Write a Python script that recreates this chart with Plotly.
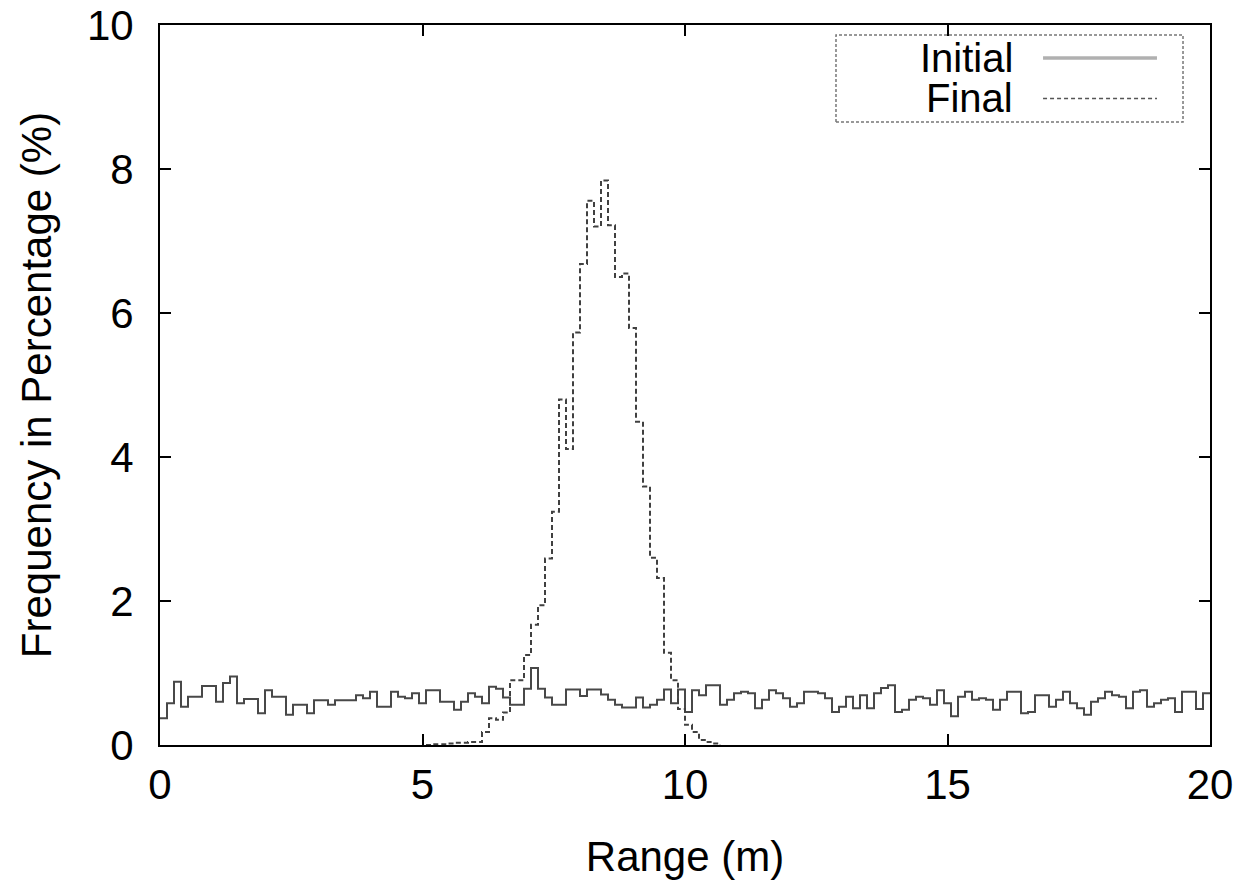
import numpy as np
import plotly.graph_objects as go

# ---- data ----
N_BINS = 150
RANGE_MAX = 20.0
bin_width = RANGE_MAX / N_BINS
bin_left = np.arange(N_BINS) * bin_width

initial_pct = [
    0.37, 0.58, 0.88, 0.53, 0.67, 0.67, 0.82, 0.82, 0.60, 0.86,
    0.95, 0.58, 0.64, 0.64, 0.44, 0.76, 0.67, 0.67, 0.42, 0.56,
    0.56, 0.44, 0.62, 0.62, 0.56, 0.62, 0.62, 0.62, 0.69, 0.65,
    0.74, 0.53, 0.53, 0.74, 0.67, 0.65, 0.72,
    0.58, 0.76, 0.76, 0.60, 0.60, 0.49, 0.60, 0.72, 0.67, 0.58,
    0.81, 0.78, 0.66, 0.56, 0.56, 0.78, 1.07,
    0.78, 0.66, 0.56, 0.56, 0.77, 0.77, 0.68, 0.77, 0.77, 0.70,
    0.63, 0.56, 0.52, 0.52, 0.66, 0.52, 0.56, 0.63, 0.77, 0.58, 0.77,
    0.46, 0.76, 0.69, 0.83, 0.83, 0.56, 0.63, 0.72, 0.74, 0.72,
    0.51, 0.63, 0.76, 0.72, 0.65, 0.53, 0.58, 0.74, 0.74, 0.72,
    0.65, 0.46, 0.53, 0.67, 0.51, 0.69, 0.51, 0.72, 0.79, 0.83,
    0.46, 0.49, 0.63, 0.67, 0.65, 0.56, 0.76,
    0.58, 0.40, 0.67, 0.74, 0.63, 0.65, 0.63, 0.49, 0.63, 0.74,
    0.74, 0.44, 0.46, 0.69, 0.69, 0.53, 0.63, 0.74, 0.58, 0.51,
    0.42, 0.60, 0.65, 0.74, 0.69, 0.67, 0.51, 0.74, 0.76, 0.53,
    0.58, 0.63, 0.65, 0.46, 0.74, 0.74, 0.50, 0.72,
]

FINAL_FIRST_BIN = 38
final_pct = [
    0.00, 0.01, 0.01, 0.02, 0.03, 0.03, 0.04, 0.04, 0.18, 0.37,
    0.35, 0.45, 0.90, 0.90, 1.25, 1.67, 1.94, 2.59, 3.24, 4.80,
    4.11, 5.73, 6.68, 7.56, 7.20, 7.84, 7.22, 6.50, 6.55, 5.79,
    4.49, 3.59, 2.60, 2.32, 1.28, 0.90, 0.50, 0.28, 0.18, 0.07,
    0.04, 0.02, 0.00,
]

x_ticks = [0, 5, 10, 15, 20]
y_ticks = [0, 2, 4, 6, 8, 10]
series_names = ["Initial", "Final"]

# ---- figure ----
x_init = list(bin_left) + [RANGE_MAX]
y_init = list(initial_pct) + [initial_pct[-1]]
x_fin = list(bin_left[FINAL_FIRST_BIN:FINAL_FIRST_BIN + len(final_pct)])
y_fin = list(final_pct)

FONT = "Liberation Sans, Arial, sans-serif"
FS = 42

fig = go.Figure()
fig.add_trace(go.Scatter(x=x_init, y=y_init, mode="lines", line_shape="hv",
                         name=series_names[0],
                         line=dict(color="#484848", width=2)))
fig.add_trace(go.Scatter(x=x_fin, y=y_fin, mode="lines", line_shape="hv",
                         name=series_names[1],
                         line=dict(color="#404040", width=2, dash="5px,3px")))

axis_common = dict(
    showline=True, linecolor="black", linewidth=2, mirror="allticks",
    ticks="inside", ticklen=11, tickwidth=2, tickcolor="black",
    showgrid=False, zeroline=False, automargin=False,
    ticklabeloverflow="allow",
    tickfont=dict(family=FONT, size=FS, color="black"),
    title_font=dict(family=FONT, size=FS, color="black"),
)

fig.update_xaxes(range=[0, RANGE_MAX], tickvals=x_ticks,
                 title_text="Range (m)", title_standoff=40,
                 ticklabelstandoff=2, **axis_common)
fig.update_yaxes(range=[0, 10], tickvals=y_ticks,
                 title_text="Frequency in Percentage (%)", title_standoff=22,
                 ticklabelstandoff=16, **axis_common)

LFS = 40
# custom gnuplot-style legend (text left, sample right, dashed box)
shapes = [
    dict(type="rect", xref="paper", yref="paper", x0=0.6438, x1=0.9743,
         y0=0.8653, y1=0.9861, line=dict(color="#777", width=1.5, dash="3px,2px")),
    dict(type="line", xref="paper", yref="paper", x0=0.841, x1=0.9495,
         y0=0.9542, y1=0.9542, line=dict(color="#b0b0b0", width=3.5)),
    dict(type="line", xref="paper", yref="paper", x0=0.841, x1=0.9495,
         y0=0.898, y1=0.898, line=dict(color="#555", width=1.5, dash="4px,3px")),
]
annotations = [
    dict(xref="paper", yref="paper", x=0.8143, y=0.9542, text=series_names[0],
         showarrow=False, xanchor="right", yanchor="middle",
         font=dict(family=FONT, size=LFS, color="black")),
    dict(xref="paper", yref="paper", x=0.8143, y=0.898, text=series_names[1],
         showarrow=False, xanchor="right", yanchor="middle",
         font=dict(family=FONT, size=LFS, color="black")),
]

fig.update_layout(
    width=1236, height=880,
    margin=dict(l=160, r=26, t=25, b=135),
    paper_bgcolor="white", plot_bgcolor="white",
    showlegend=False,
    shapes=shapes, annotations=annotations,
)

fig.write_html("out.html",
               config={"displayModeBar": False},
               post_script="document.body.style.margin='0';"
                           "document.body.style.overflow='hidden';")
